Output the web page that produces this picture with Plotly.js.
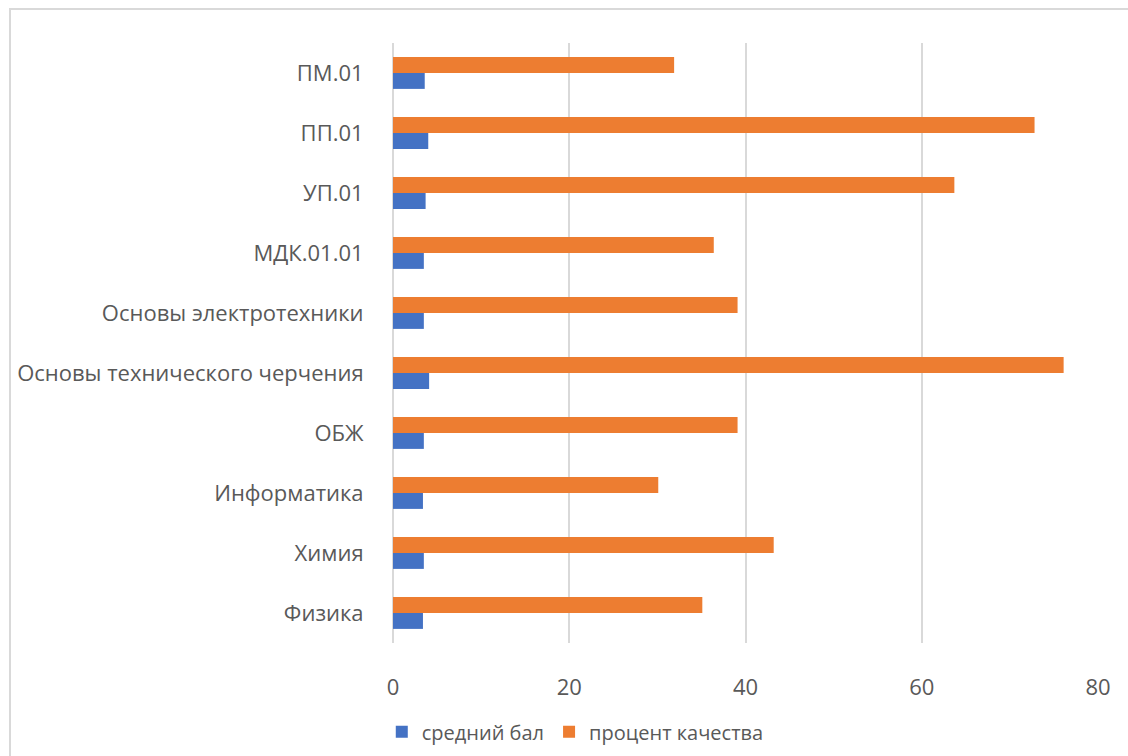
<!DOCTYPE html>
<html>
<head>
<meta charset="utf-8">
<script src="https://cdn.plot.ly/plotly-3.0.1.min.js"></script>
<style>
html,body{margin:0;padding:0;background:#fff;overflow:hidden;}
#wrap{position:relative;width:1128px;height:756px;}
#chart{width:1128px;height:756px;}
#frame{position:absolute;left:9px;top:8px;width:1200px;height:800px;border:2px solid #d9d9d9;pointer-events:none;}
</style>
</head>
<body>
<div id="wrap"><div id="chart"></div><div id="frame"></div></div>
<script>
const categories = ["Физика","Химия","Информатика","ОБЖ","Основы технического черчения","Основы электротехники","МДК.01.01","УП.01","ПП.01","ПМ.01"];
const avgScore = [3.4, 3.5, 3.4, 3.5, 4.1, 3.5, 3.5, 3.7, 4.0, 3.6];
const qualityPct = [35.1, 43.2, 30.1, 39.1, 76.1, 39.1, 36.4, 63.7, 72.8, 31.9];
const seriesNames = ["средний бал", "процент качества"];
const xTicks = [0, 20, 40, 60, 80];

const fontFam = '"Open Sans", "Noto Sans", sans-serif';
const traces = [
  {type:'bar', orientation:'h', name:seriesNames[0], y:categories, x:avgScore, marker:{color:'#4472C4'}, hoverinfo:'x+y'},
  {type:'bar', orientation:'h', name:seriesNames[1], y:categories, x:qualityPct, marker:{color:'#ED7D31'}, hoverinfo:'x+y'}
];
const layout = {
  width:1128, height:756,
  margin:{l:393, r:30, t:43, b:113, autoexpand:false},
  paper_bgcolor:'rgba(0,0,0,0)', plot_bgcolor:'#fff',
  barmode:'group', bargap:0.47, bargroupgap:0,
  font:{family:fontFam, size:22, color:'#595959'},
  xaxis:{range:[0,80], tickvals:xTicks, ticktext:xTicks.map(String), showgrid:true, gridcolor:'#d9d9d9', gridwidth:2,
         zeroline:true, zerolinecolor:'#d9d9d9', zerolinewidth:2, showline:false, automargin:false,
         ticks:'outside', ticklen:25, tickcolor:'rgba(0,0,0,0)', tickfont:{size:22, color:'#595959'}, fixedrange:true},
  yaxis:{type:'category', categoryorder:'array', categoryarray:categories, showgrid:false, zeroline:false, showline:false, automargin:false,
         ticks:'outside', ticklen:24, tickcolor:'rgba(0,0,0,0)', tickfont:{size:22, color:'#595959'}, fixedrange:true},
  showlegend:true,
  legend:{orientation:'h', xref:'container', yref:'container', x:0.51, xanchor:'center', y:0.032, yanchor:'middle', font:{size:20, color:'#595959'}, traceorder:'normal', itemwidth:30}
};
Plotly.newPlot('chart', traces, layout, {displayModeBar:false, staticPlot:true});
</script>
</body>
</html>
